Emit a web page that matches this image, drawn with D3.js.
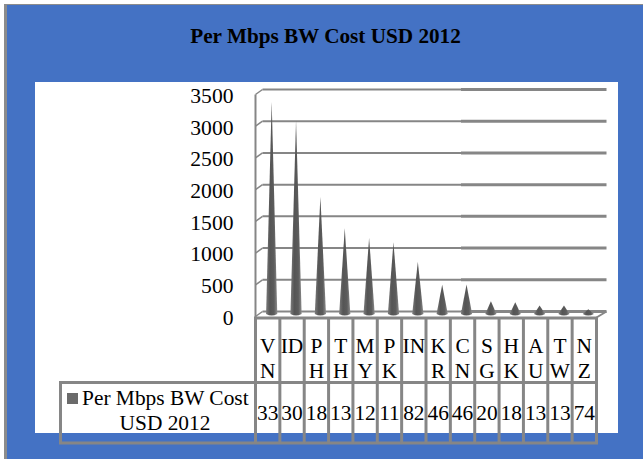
<!DOCTYPE html>
<html>
<head>
<meta charset="utf-8">
<script src="https://cdn.jsdelivr.net/npm/d3@7"></script>
<style>
html, body { margin: 0; padding: 0; background: #fff; overflow: hidden; }
text { font-family: "Liberation Serif", serif; fill: #000; }
</style>
</head>
<body>
<div id="chart-area"></div>
<script>
var codes = ["VN", "ID", "PH", "TH", "MY", "PK", "IN", "KR", "CN", "SG", "HK", "AU", "TW", "NZ"];
var codeLines = [["V", "N"], ["ID"], ["P", "H"], ["T", "H"], ["M", "Y"], ["P", "K"], ["IN"], ["K", "R"], ["C", "N"], ["S", "G"], ["H", "K"], ["A", "U"], ["T", "W"], ["N", "Z"]];
var costs = [3350, 3050, 1850, 1350, 1200, 1130, 825, 460, 465, 200, 185, 135, 135, 74];
var tableLabels = ["33", "30", "18", "13", "12", "11", "82", "46", "46", "20", "18", "13", "13", "74"];
var yTicks = [0, 500, 1000, 1500, 2000, 2500, 3000, 3500];
var title = "Per Mbps BW Cost USD 2012";
var legendLines = ["Per Mbps BW Cost", "USD 2012"];

var width = 643, height = 459;
var grey = "#868686";
var fontSize = 21.4;

var svg = d3.select("#chart-area").append("svg")
    .attr("width", width)
    .attr("height", height)
    .style("display", "block");

// cone gradient
var grad = svg.append("defs").append("linearGradient").attr("id", "cone");
grad.append("stop").attr("offset", "0%").attr("stop-color", "#7c7c7c");
grad.append("stop").attr("offset", "35%").attr("stop-color", "#555");
grad.append("stop").attr("offset", "70%").attr("stop-color", "#5c5c5c");
grad.append("stop").attr("offset", "100%").attr("stop-color", "#8c8c8c");

// background
svg.append("rect").attr("x", 4).attr("y", 4).attr("width", 639).attr("height", 455).attr("fill", "#8c8c8c");
svg.append("rect").attr("x", 7).attr("y", 5).attr("width", 636).attr("height", 454).attr("fill", "#4472c4");
svg.append("rect").attr("x", 35).attr("y", 82).attr("width", 583).attr("height", 351).attr("fill", "#fff");

svg.append("text")
    .attr("x", 325.5).attr("y", 43)
    .attr("text-anchor", "middle")
    .attr("font-size", 21.2)
    .attr("font-weight", "bold")
    .text(title);

// scales
var x = d3.scaleBand().domain(codes).range([255.5, 596.5]);
var y = d3.scaleLinear().domain([0, 3500]).range([311.5, 89.5]);
var depthX = 7, depthY = 5;
var wallRight = 606.5, thickFrom = 461;

// back wall gridlines, side wall and floor
var grid = svg.append("g").attr("fill", "none").attr("stroke", grey);
grid.selectAll("line.grid").data(yTicks).enter().append("line")
    .attr("class", "grid")
    .attr("x1", x.range()[0] + depthX).attr("x2", thickFrom)
    .attr("y1", function(d) { return y(d); }).attr("y2", function(d) { return y(d); })
    .attr("stroke-width", 2);
grid.selectAll("line.thick").data(yTicks).enter().append("line")
    .attr("class", "thick")
    .attr("x1", thickFrom).attr("x2", wallRight)
    .attr("y1", function(d) { return y(d); }).attr("y2", function(d) { return y(d); })
    .attr("stroke-width", 3);
grid.selectAll("line.side").data(yTicks).enter().append("line")
    .attr("class", "side")
    .attr("x1", x.range()[0]).attr("x2", x.range()[0] + depthX)
    .attr("y1", function(d) { return y(d) + depthY; }).attr("y2", function(d) { return y(d); })
    .attr("stroke-width", 1.5);
grid.append("line")
    .attr("x1", x.range()[0]).attr("x2", x.range()[0])
    .attr("y1", y(3500) + depthY).attr("y2", y(0) + depthY + 2)
    .attr("stroke-width", 2);
grid.append("line")
    .attr("x1", wallRight).attr("x2", x.range()[1])
    .attr("y1", y(0)).attr("y2", y(0) + depthY + 1)
    .attr("stroke-width", 2);

// y axis labels
var yAxis = d3.axisLeft(y).tickValues(yTicks).tickFormat(d3.format("d")).tickSize(0).tickPadding(0);
svg.append("g")
    .attr("transform", "translate(233.5,6)")
    .call(yAxis)
    .call(function(g) { g.select(".domain").remove(); })
    .selectAll("text")
    .attr("font-family", "Liberation Serif")
    .attr("font-size", 21.6);

// cones
var halfBase = 5.6;
svg.selectAll("path.cone").data(costs).enter().append("path")
    .attr("class", "cone")
    .attr("fill", "url(#cone)")
    .attr("d", function(d, i) {
        var cx = x(codes[i]) + x.bandwidth() / 2 + 4;
        var base = y(0) + 2.5;
        var top = y(d) + 2.5;
        return "M" + (cx - halfBase) + "," + base +
            "L" + cx + "," + top +
            "L" + (cx + halfBase) + "," + base +
            "Q" + cx + "," + (base + 3) + " " + (cx - halfBase) + "," + base + "Z";
    });

// data table
var rows = [318, 382.5, 443];
var table = svg.append("g").attr("stroke", grey).attr("stroke-width", 3).attr("fill", "none");
table.append("line").attr("x1", x.range()[0] - 1.5).attr("x2", x.range()[1] + 1.5).attr("y1", rows[0]).attr("y2", rows[0]);
table.append("line").attr("x1", 59).attr("x2", x.range()[1] + 1.5).attr("y1", rows[1]).attr("y2", rows[1]);
table.append("line").attr("x1", 59).attr("x2", x.range()[1] + 1.5).attr("y1", rows[2]).attr("y2", rows[2]);
table.append("line").attr("x1", 60.5).attr("x2", 60.5).attr("y1", rows[1]).attr("y2", rows[2]);
table.selectAll("line.col").data(d3.range(codes.length + 1)).enter().append("line")
    .attr("class", "col")
    .attr("x1", function(i) { return x.range()[0] + i * x.step(); })
    .attr("x2", function(i) { return x.range()[0] + i * x.step(); })
    .attr("y1", rows[0]).attr("y2", rows[2]);

var labels = svg.append("g").attr("text-anchor", "middle").attr("font-size", fontSize);
codeLines.forEach(function(lines, i) {
    var cx = x(codes[i]) + x.bandwidth() / 2;
    lines.forEach(function(s, j) {
        labels.append("text").attr("x", cx).attr("y", 353 + j * 25).text(s);
    });
    labels.append("text").attr("x", cx).attr("y", 420).text(tableLabels[i]);
});

// legend
svg.append("rect").attr("x", 67).attr("y", 393).attr("width", 11).attr("height", 11).attr("fill", "#6b6b6b");
svg.append("text").attr("x", 82).attr("y", 405).attr("font-size", fontSize).text(legendLines[0]);
svg.append("text").attr("x", 165).attr("y", 430).attr("text-anchor", "middle").attr("font-size", fontSize).text(legendLines[1]);
</script>
</body>
</html>
